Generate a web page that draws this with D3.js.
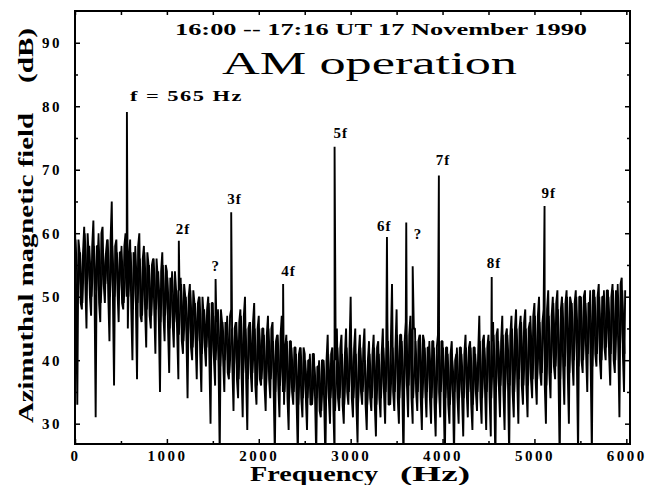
<!DOCTYPE html>
<html>
<head>
<meta charset="utf-8">
<script src="https://cdn.jsdelivr.net/npm/d3@7"></script>
<style>
  body { margin: 0; background: #fff; }
  svg { display: block; }
  text { fill: #000; }
</style>
</head>
<body>
<div id="chart"></div>
<script>
// spectrum, 50 Hz bins: upper and lower excursion of the trace (dB)
const binStep = 50;
const hi = [
  61, 57, 61, 56, 62, 58, 61, 59, 65, 59,
  57, 60, 59, 56, 60, 58, 55, 56, 53, 57,
  54, 52, 51, 53, 50, 52, 49, 50, 47, 50,
  49, 46, 46, 45, 48, 46, 48, 50, 46, 49,
  47, 45, 47, 46, 44, 47, 44, 43, 42, 42,
  41, 40, 41, 39, 40, 44, 42, 45, 44, 45,
  50, 45, 44, 45, 43, 44, 43, 45, 46, 52,
  48, 44, 46, 47, 45, 44, 43, 42, 43, 44,
  43, 42, 43, 41, 42, 44, 43, 42, 47, 44,
  44, 46, 45, 47, 45, 47, 48, 47, 48, 46,
  49, 50, 48, 51, 50, 51, 50, 51, 49, 51,
  50, 51, 49, 51, 52, 50, 51, 52, 50, 53
];
const lo = [
  33, 48, 45, 47, 31, 46, 49, 43, 36, 46,
  48, 45, 40, 37, 46, 42, 45, 41, 35, 43,
  38, 42, 37, 41, 34, 40, 37, 35, 39, 30,
  36, 25, 35, 37, 32, 34, 31, 29, 35, 33,
  36, 32, 34, 25, 31, 33, 29, 33, 25, 31,
  29, 33, 25, 31, 24, 30, 25, 32, 30, 33,
  31, 27, 33, 29, 32, 28, 31, 30, 33, 32,
  30, 24, 31, 30, 32, 29, 31, 30, 28, 31,
  24, 30, 25, 30, 28, 31, 29, 32, 30, 29,
  28, 24, 31, 29, 25, 31, 30, 33, 31, 34,
  33, 36, 30, 34, 37, 24, 33, 30, 36, 25,
  38, 35, 25, 39, 37, 40, 36, 38, 31, 35
];

// the dense middle of the trace, same 50 Hz bins, sampled between the ones above
const coreHi = [
  59, 57, 60, 58, 58, 60, 57, 59, 58, 57,
  58, 56, 57, 58, 56, 57, 55, 56, 54, 55,
  53, 54, 51, 52, 50, 51, 49, 50, 48, 49,
  47, 48, 46, 47, 45, 46, 47, 45, 46, 45,
  45, 44, 45, 43, 44, 42, 43, 42, 41, 42,
  40, 41, 39, 40, 40, 41, 40, 42, 41, 42,
  42, 41, 42, 40, 41, 42, 41, 42, 43, 42,
  44, 43, 44, 45, 43, 44, 42, 43, 42, 43,
  42, 41, 40, 42, 41, 42, 42, 41, 43, 42,
  43, 44, 43, 44, 44, 45, 45, 46, 45, 47,
  47, 46, 48, 47, 49, 48, 49, 50, 49, 50,
  50, 49, 51, 50, 50, 51, 50, 51, 52, 51
];
const coreLo = [
  51, 49, 52, 50, 51, 49, 52, 50, 50, 51,
  49, 50, 48, 49, 47, 48, 47, 48, 46, 47,
  45, 46, 44, 43, 44, 42, 43, 41, 42, 40,
  40, 39, 40, 38, 39, 37, 38, 37, 38, 36,
  37, 36, 37, 35, 36, 35, 34, 35, 33, 34,
  34, 33, 34, 32, 33, 34, 32, 34, 33, 35,
  34, 33, 35, 33, 34, 33, 34, 35, 33, 35,
  34, 35, 36, 34, 35, 34, 35, 34, 33, 35,
  34, 33, 35, 34, 34, 35, 33, 35, 34, 35,
  34, 35, 36, 35, 36, 35, 37, 36, 36, 37,
  37, 38, 36, 38, 39, 37, 39, 38, 40, 39,
  40, 41, 39, 41, 40, 42, 41, 40, 42, 41
];

// narrow lines (harmonics of 565 Hz and two unidentified ones)
const peakFreqs = [565, 1130, 1530, 1700, 2265, 2825, 3395, 3605, 3675, 3960, 4535, 5110];
const peakDb = [79.1, 58.8, 52.8, 63.3, 52, 73.6, 59.4, 61.7, 54.8, 69.1, 53.1, 64.3];
const peakLabels = ['f = 565 Hz', '2f', '?', '3f', '4f', '5f', '6f', '', '?', '7f', '8f', '9f'];
// label offsets in px from the top of each line
const labelDx = [3, -3, -4, -4, -2, -1, -10, 0, 1, -3, -5, -3];
const labelDy = [-11, -7, -8, -8, -8, -9, -6, 0, -27, -10, -9, -8];

const xTicks = [0, 1000, 2000, 3000, 4000, 5000, 6000];
const xMinor = [500, 1500, 2500, 3500, 4500, 5500];
const yTicks = [30, 40, 50, 60, 70, 80, 90];
const yMinor = [35, 45, 55, 65, 75, 85];

const width = 654, height = 485;
const plotLeft = 75, plotRight = 630, plotTop = 11, plotBottom = 444;

const svg = d3.select('#chart').append('svg')
  .attr('width', width)
  .attr('height', height);

const x = d3.scaleLinear().domain([0, 6040]).range([plotLeft, plotRight]);
const y = d3.scaleLinear().domain([26.8, 95]).range([plotBottom, plotTop]);

svg.append('clipPath').attr('id', 'plot')
  .append('rect')
  .attr('x', plotLeft).attr('y', plotTop)
  .attr('width', plotRight - plotLeft).attr('height', plotBottom - plotTop);

const plot = svg.append('g').attr('clip-path', 'url(#plot)');

const line = d3.line()
  .x(d => x(d[0]))
  .y(d => y(d[1]));

// build the trace: wide excursions and the dense middle, all sorted by frequency
let pts = [];
hi.forEach((v, i) => {
  pts.push([i * binStep, v]);
  pts.push([i * binStep + binStep * 0.25, coreLo[i]]);
  pts.push([i * binStep + binStep * 0.5, lo[i]]);
  pts.push([i * binStep + binStep * 0.75, coreHi[i]]);
});
peakFreqs.forEach((f, i) => pts.push([f, peakDb[i]]));
pts.sort((a, b) => a[0] - b[0]);

plot.append('path')
  .datum(pts)
  .attr('d', line)
  .attr('fill', 'none')
  .attr('stroke', '#000')
  .attr('stroke-width', 1.9)
  .attr('stroke-linejoin', 'bevel');

// second pass through the middle only, to fill it in like the plotted original
let mid = [];
coreHi.forEach((v, i) => {
  mid.push([i * binStep + binStep * 0.125, v]);
  mid.push([i * binStep + binStep * 0.625, coreLo[i]]);
});
plot.append('path')
  .datum(mid)
  .attr('d', line)
  .attr('fill', 'none')
  .attr('stroke', '#000')
  .attr('stroke-width', 1.7)
  .attr('stroke-linejoin', 'bevel');

// axes, ticks pointing into the frame
const serif = '"Liberation Serif", "DejaVu Serif", serif';

function styleAxis(g) {
  g.select('.domain').remove();
  g.selectAll('line').attr('stroke', '#000').attr('stroke-width', 1.5);
  g.selectAll('text')
    .attr('font-family', serif)
    .attr('font-weight', 'bold')
    .attr('font-size', 15)
    .attr('letter-spacing', 2.5)
    .attr('fill', '#000');
}

svg.append('g').attr('transform', `translate(${plotLeft},0)`)
  .call(d3.axisLeft(y).tickValues(yTicks).tickSize(-5).tickPadding(13).tickFormat(d3.format('d')))
  .call(styleAxis);
svg.append('g').attr('transform', `translate(${plotLeft},0)`)
  .call(d3.axisLeft(y).tickValues(yMinor).tickSize(-3).tickFormat(''))
  .call(styleAxis);
svg.append('g').attr('transform', `translate(${plotRight},0)`)
  .call(d3.axisRight(y).tickValues(yTicks).tickSize(-5).tickFormat(''))
  .call(styleAxis);
svg.append('g').attr('transform', `translate(${plotRight},0)`)
  .call(d3.axisRight(y).tickValues(yMinor).tickSize(-3).tickFormat(''))
  .call(styleAxis);

svg.append('g').attr('transform', `translate(0,${plotBottom})`)
  .call(d3.axisBottom(x).tickValues(xTicks).tickSize(-5).tickPadding(6).tickFormat(d3.format('d')))
  .call(styleAxis);
svg.append('g').attr('transform', `translate(0,${plotBottom})`)
  .call(d3.axisBottom(x).tickValues(xMinor).tickSize(-3).tickFormat(''))
  .call(styleAxis);
svg.append('g').attr('transform', `translate(0,${plotTop})`)
  .call(d3.axisTop(x).tickValues(xTicks.concat(xMinor)).tickSize(-4).tickFormat(''))
  .call(styleAxis);

svg.append('rect')
  .attr('x', plotLeft).attr('y', plotTop)
  .attr('width', plotRight - plotLeft).attr('height', plotBottom - plotTop)
  .attr('fill', 'none')
  .attr('stroke', '#000')
  .attr('stroke-width', 2);

// line labels
peakFreqs.forEach((f, i) => {
  if (!peakLabels[i]) return;
  const t = svg.append('text')
    .attr('x', x(f) + labelDx[i])
    .attr('y', y(peakDb[i]) + labelDy[i])
    .attr('font-family', serif)
    .attr('font-weight', 'bold')
    .attr('font-size', 15)
    .attr('letter-spacing', 1)
    .text(peakLabels[i]);
  if (i === 0) t.attr('textLength', 113).attr('lengthAdjust', 'spacingAndGlyphs');
});

// titles
svg.append('text')
  .attr('x', 175).attr('y', 35)
  .attr('font-family', serif)
  .attr('font-weight', 'bold')
  .attr('font-size', 16)
  .attr('textLength', 412)
  .attr('lengthAdjust', 'spacingAndGlyphs')
  .text('16:00 -- 17:16 UT 17 November 1990');

svg.append('text')
  .attr('x', 222).attr('y', 74)
  .attr('font-family', serif)
  .attr('font-size', 32)
  .attr('textLength', 295)
  .attr('lengthAdjust', 'spacingAndGlyphs')
  .text('AM operation');

// axis titles
svg.append('text')
  .attr('x', 250).attr('y', 481)
  .attr('font-family', serif)
  .attr('font-weight', 'bold')
  .attr('font-size', 21)
  .attr('textLength', 128)
  .attr('lengthAdjust', 'spacingAndGlyphs')
  .text('Frequency');
svg.append('text')
  .attr('x', 400).attr('y', 481)
  .attr('font-family', serif)
  .attr('font-weight', 'bold')
  .attr('font-size', 21)
  .attr('textLength', 70)
  .attr('lengthAdjust', 'spacingAndGlyphs')
  .text('(Hz)');

svg.append('text')
  .attr('transform', 'translate(33,423) rotate(-90)')
  .attr('font-family', serif)
  .attr('font-weight', 'bold')
  .attr('font-size', 21)
  .attr('textLength', 310)
  .attr('lengthAdjust', 'spacingAndGlyphs')
  .text('Azimuthal magnetic field');
svg.append('text')
  .attr('transform', 'translate(33,83) rotate(-90)')
  .attr('font-family', serif)
  .attr('font-weight', 'bold')
  .attr('font-size', 21)
  .attr('textLength', 55)
  .attr('lengthAdjust', 'spacingAndGlyphs')
  .text('(dB)');
</script>
</body>
</html>
